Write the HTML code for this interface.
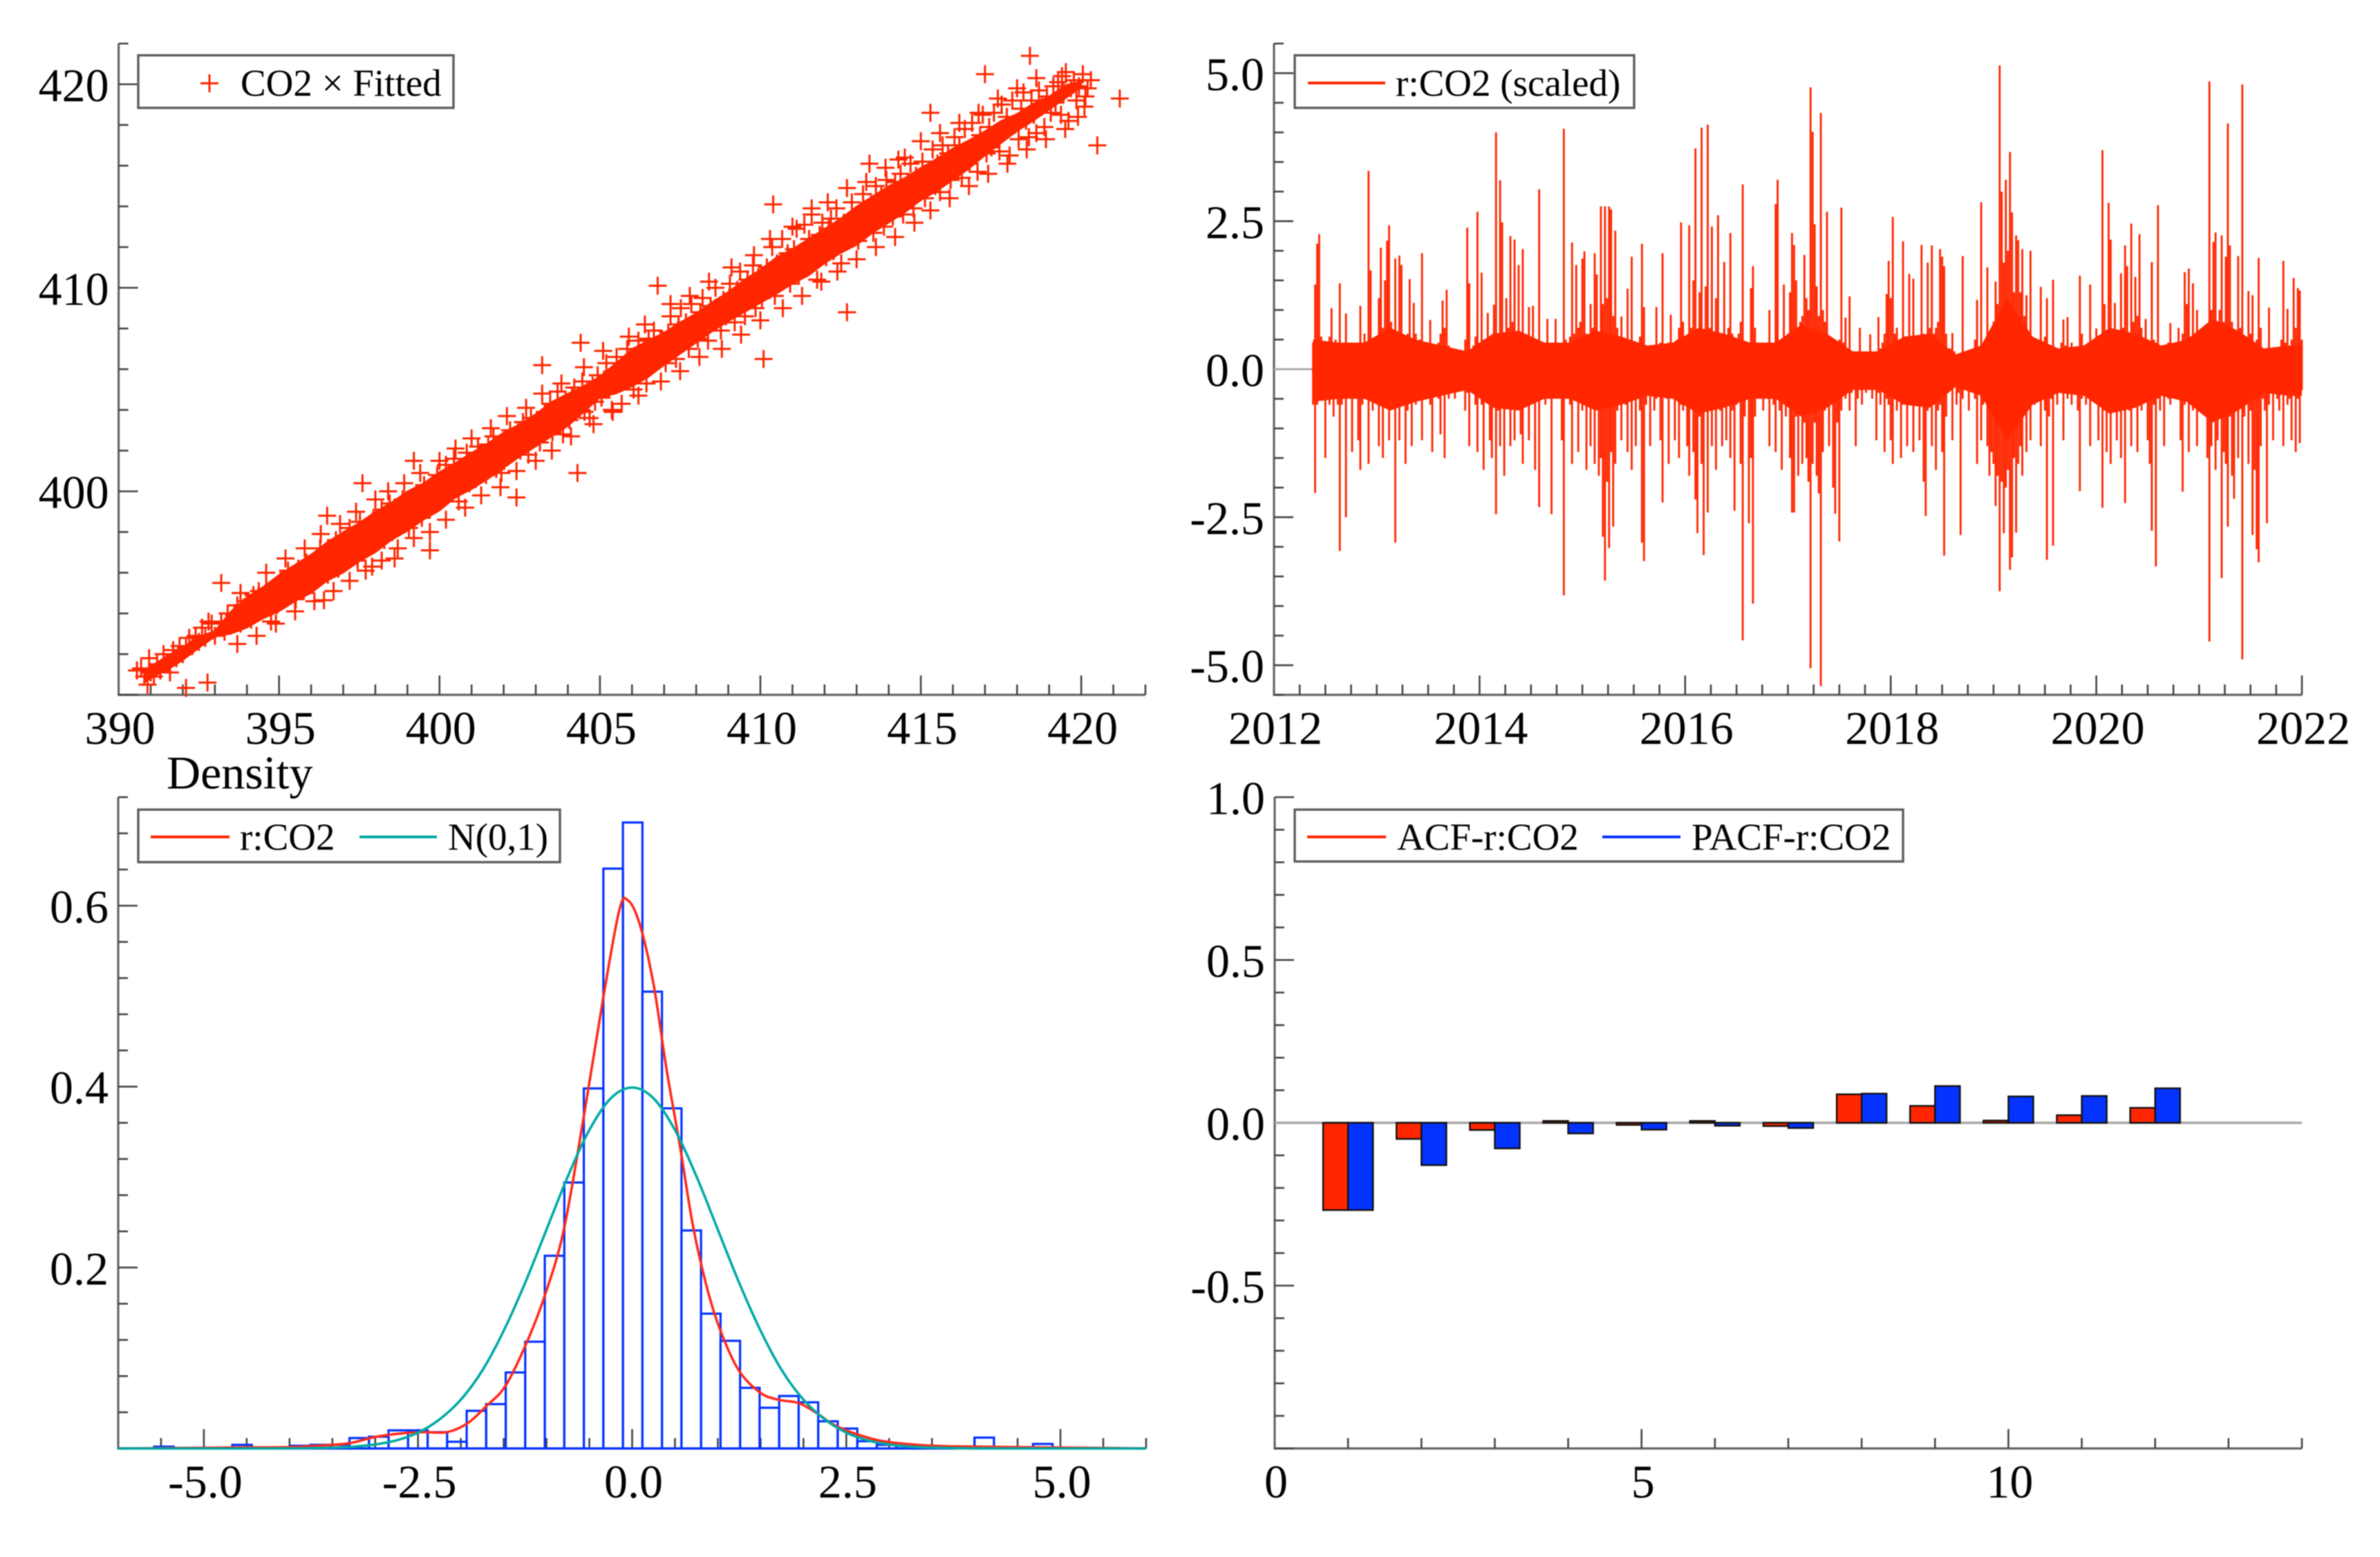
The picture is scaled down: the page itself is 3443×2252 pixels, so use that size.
<!DOCTYPE html>
<html lang="en">
<head>
<meta charset="utf-8">
<title>CO2 model diagnostics</title>
<style>
html,body{margin:0;padding:0;background:#fff;width:3443px;height:2252px;overflow:hidden}
svg{display:block;filter:blur(0.9px)}
text{font-family:"Liberation Serif",serif;fill:#000}
</style>
</head>
<body>
<svg id="chart" xmlns="http://www.w3.org/2000/svg" width="3443" height="2252" viewBox="0 0 3443 2252"></svg>
<script>
/* ---------- Panel 1: CO2 x Fitted ---------- */
const co2FittedPoints = [
[390.57,391.2],[390.7,391.3],[390.8,390.9],[390.95,391.8],[390.9,390.5],[391.0,391.1],[391.1,390.9],[391.2,391.5],[391.3,391.2],[391.4,392.0],[391.5,391.6],[391.6,391.1],[391.7,392.2],[391.8,391.8],[391.9,392.4],[392.0,392.0],[392.1,392.3],[392.1,390.34],[392.2,392.8],[392.3,392.4],[392.4,392.9],[392.5,392.6],[392.6,393.3],[392.7,392.8],[392.77,390.6],[392.8,393.6],[392.9,393.5],[393.0,392.9],
[393.2,393.6],[393.2,395.5],[393.3,393.1],[393.4,394.0],[393.5,393.4],[393.6,393.9],[393.7,394.4],[393.7,392.5],[393.8,393.5],[393.9,394.3],[394.0,393.8],[394.0,394.6],
[394.05,394.4],[394.13,393.7],[394.2,394.9],[394.28,394.1],[394.37,395.1],[394.45,394.2],[394.52,394.3],[394.6,395.2],[394.68,394.5],[394.75,393.6],[394.85,395.0],[394.93,394.4],
[395.05,395.6],[395.13,394.8],[395.2,395.3],[395.28,396.1],[395.37,395.0],[395.45,395.7],[395.52,394.7],[395.6,396.2],[395.68,395.6],[395.77,395.1],[395.85,396.5],[395.93,395.7],
[396.05,395.4],[396.13,396.4],[396.2,396.0],[396.28,397.2],[396.37,396.3],[396.4,394.65],[396.45,396.9],[396.5,398.8],[396.52,395.9],[396.6,397.1],[396.68,396.4],[396.77,397.6],[396.85,396.2],[396.93,397.0],
[397.05,396.5],[397.13,397.4],[397.2,398.2],[397.28,397.0],[397.37,397.9],[397.45,396.6],[397.52,398.5],[397.6,400.4],[397.68,397.5],[397.77,398.0],[397.85,397.3],[397.9,396.3],[397.93,398.6],
[398.05,397.7],[398.13,398.3],[398.2,399.1],[398.28,397.6],[398.37,398.6],[398.45,399.4],[398.52,398.1],[398.6,396.7],[398.65,399.0],[398.77,398.4],[398.85,399.6],[398.93,398.8],
[399.05,398.2],[399.13,399.5],[399.2,401.5],[399.28,399.0],[399.37,399.8],[399.45,398.7],[399.52,400.3],[399.6,399.3],[399.7,397.1],[399.75,400.0],[399.85,399.4],[399.93,400.8],
[400.05,399.6],[400.13,400.6],[400.2,401.3],[400.28,399.9],[400.37,400.4],[400.45,401.6],[400.52,400.1],[400.6,399.5],[400.68,401.1],[400.77,400.5],[400.85,401.9],[400.93,400.4],
[401.05,401.4],[401.13,400.6],[401.2,402.2],[401.28,401.0],[401.37,401.8],[401.45,400.8],[401.52,402.3],[401.6,401.3],[401.68,402.7],[401.77,401.1],[401.85,401.9],[401.93,400.9],
[402.05,402.5],[402.13,401.7],[402.2,403.0],[402.28,402.1],[402.4,399.7],[402.45,402.9],[402.52,402.0],[402.6,403.4],[402.68,402.5],[402.77,401.8],[402.85,403.6],[402.93,402.8],
[403.05,403.3],[403.13,402.4],[403.2,406.2],[403.28,403.9],[403.37,403.0],[403.45,404.3],[403.52,402.9],[403.6,403.8],[403.68,404.9],[403.77,403.4],[403.85,402.8],[403.93,404.5],
[404.05,403.5],[404.13,404.6],[404.2,405.1],[404.3,400.9],[404.37,404.0],[404.4,407.3],[404.45,405.4],[404.52,403.9],[404.6,404.9],[404.68,403.6],[404.77,405.2],[404.85,404.4],[404.93,405.7],
[405.05,404.6],[405.13,405.5],[405.2,406.3],[405.28,405.0],[405.37,404.0],[405.45,405.9],[405.52,406.6],[405.6,405.3],[405.68,404.3],[405.77,406.2],[405.85,407.0],[405.93,405.7],
[406.05,405.0],[406.13,406.6],[406.2,407.4],[406.28,405.9],[406.37,406.9],[406.45,405.3],[406.52,407.5],[406.6,406.4],[406.68,407.9],[406.8,410.1],[406.85,406.8],[406.93,407.3],
[407.05,406.3],[407.13,407.8],[407.2,408.6],[407.28,407.1],[407.37,406.5],[407.45,408.2],[407.52,409.0],[407.6,407.4],[407.68,408.3],[407.77,407.0],[407.85,409.2],[407.93,408.1],
[408.05,407.5],[408.13,408.8],[408.2,409.5],[408.28,408.1],[408.37,407.4],[408.45,409.1],[408.52,408.3],[408.6,410.0],[408.68,408.7],[408.77,407.9],[408.85,409.4],[408.93,408.6],
[409.05,410.2],[409.13,409.0],[409.2,408.3],[409.28,409.9],[409.37,410.8],[409.45,409.2],[409.52,408.6],[409.6,410.4],[409.68,409.6],[409.77,411.1],[409.85,409.0],[409.93,410.5],
[410.05,409.5],[410.1,406.5],[410.2,411.0],[410.28,410.2],[410.37,412.0],[410.4,414.1],[410.45,409.6],[410.52,411.2],[410.6,410.3],[410.68,412.4],[410.77,410.8],[410.85,411.7],[410.93,410.2],
[411.05,411.9],[411.13,412.9],[411.2,410.6],[411.28,411.6],[411.37,413.1],[411.45,411.0],[411.52,412.4],[411.6,413.6],[411.68,411.3],[411.77,410.4],[411.85,412.6],[411.93,413.2],
[412.05,411.5],[412.13,412.9],[412.2,413.4],[412.28,411.8],[412.37,413.9],[412.45,412.5],[412.52,411.2],[412.6,413.2],[412.7,408.8],[412.77,412.4],[412.85,414.2],[412.93,413.0],
[413.05,412.3],[413.13,413.7],[413.2,414.6],[413.28,413.1],[413.4,416.1],[413.45,414.1],[413.52,412.7],[413.6,415.0],[413.68,413.8],[413.77,414.5],[413.85,413.0],[413.93,415.3],
[414.05,414.6],[414.13,413.5],[414.2,415.2],[414.28,414.3],[414.3,416.3],[414.37,415.6],[414.45,413.6],[414.52,415.0],[414.6,414.4],[414.68,416.1],[414.77,413.9],[414.85,415.5],[414.93,414.7],
[415.05,416.2],[415.13,414.4],[415.2,415.6],[415.3,418.6],[415.37,416.8],[415.45,415.0],[415.52,416.1],[415.6,414.7],[415.68,417.0],[415.77,415.9],[415.85,416.6],[415.93,415.3],
[416.05,417.4],[416.13,416.0],[416.2,417.0],[416.28,415.4],[416.37,417.8],[416.45,416.5],[416.52,416.1],[416.6,418.1],[416.68,416.9],[416.77,415.7],[416.85,417.5],[416.93,418.5],
[417.0,420.5],[417.05,416.6],[417.13,417.9],[417.2,416.9],[417.28,418.6],[417.37,417.4],[417.45,416.7],[417.52,419.0],[417.6,417.7],[417.68,418.4],[417.77,416.5],[417.85,419.2],[417.93,418.0],
[418.05,417.3],[418.13,418.8],[418.2,419.6],[418.28,418.2],[418.37,417.4],[418.4,421.4],[418.45,419.2],[418.52,418.5],[418.6,417.6],[418.68,419.7],[418.77,418.9],[418.85,417.9],[418.93,419.4],
[419.05,418.6],[419.13,419.9],[419.2,419.1],[419.28,420.1],[419.37,418.5],[419.4,420.4],[419.45,419.6],[419.52,420.6],[419.6,418.2],[419.68,419.8],[419.77,420.2],[419.85,419.2],[419.93,419.9],
[420.05,420.5],[420.13,419.4],[420.2,419.8],[420.3,420.2],[420.5,417.0],[421.2,419.3],
[393.8,395.0],[394.3,392.9],[394.6,396.0],[394.9,393.5],[395.2,396.7],[395.5,394.1],[395.8,397.2],[396.1,394.6],[396.3,397.9],[396.7,395.1],[396.9,398.4],[397.2,395.6],[397.4,399.0],[397.7,396.1],[398.0,399.6],[398.2,396.6],[398.4,400.0],[398.7,397.2],[398.9,400.4],[399.2,397.7],[399.4,400.9],[399.7,398.0],[400.0,401.5],[400.2,398.6],[400.5,402.1],[400.8,399.2],[401.0,402.6],[401.3,399.8],[401.6,403.1],[401.9,400.2],[402.1,403.7],[402.4,401.0],[402.7,404.1],[403.0,401.5],[403.2,404.8],[403.5,402.0],[403.8,405.3],[404.1,402.7],[404.5,406.1],[404.8,403.3],[405.1,406.9],[405.4,403.9],[405.9,407.6],[406.2,404.7],[406.4,408.2],[406.9,405.4],[407.2,409.2],[407.5,405.9],[407.8,409.6],[408.1,406.6],[408.4,410.3],[408.8,407.0],[409.1,411.0],[409.4,407.7],[409.8,411.6],[410.0,408.4],[410.3,412.4],[410.7,409.0],[411.0,413.0],[411.3,409.6],[411.6,413.9],[411.9,410.3],[412.1,414.2],[412.4,410.8],[412.7,414.9],[413.0,411.4],[413.3,415.2],[413.6,412.0],[413.9,415.9],[414.2,412.5],[414.5,416.4],[414.8,413.2],[415.0,417.2],[415.3,413.8],[415.6,417.6],[415.9,414.4],[416.2,418.1],[416.5,415.0],[416.8,418.6],[417.1,415.6],[417.4,419.3],[417.7,416.1],[418.0,419.8],[418.3,416.8],[418.6,420.3],[418.9,417.3],[419.5,417.8],[419.9,418.4],[420.1,418.9]
];
/* saturated (fully overplotted) core of the point cloud, read as an envelope */
const denseBandX = [390.8,391.2,391.6,392,392.5,393,393.5,394,394.5,395,395.5,396,396.5,397,397.5,398,398.5,399,399.5,400,400.5,401,401.5,402,402.5,403,403.5,404,404.5,405,405.5,406,406.5,407,407.5,408,408.5,409,409.5,410,410.5,411,411.5,412,412.5,413,413.5,414,414.5,415,415.5,416,416.5,417,417.5,418,418.5,419,419.5,420];
const denseBandLow = [390.6,391.0,391.3,391.7,392.3,392.85,393.0,393.3,393.75,394.1,394.6,395.0,395.6,396.0,396.55,397.0,397.6,398.05,398.6,399.05,399.7,400.1,400.6,401.15,401.7,402.2,402.7,403.2,403.9,404.6,404.8,405.15,405.6,406.2,406.75,407.3,407.85,408.35,408.8,409.25,409.7,410.2,410.6,411.2,411.7,412.1,412.7,413.2,413.7,414.3,414.75,415.3,415.85,416.5,417.1,417.7,418.2,418.75,419.3,419.85];
const denseBandHigh = [391.2,391.6,392.0,392.35,392.85,393.15,394.1,394.8,395.3,395.9,396.4,396.9,397.5,398.0,398.45,399.0,399.45,400.0,400.4,400.95,401.4,401.9,402.35,402.9,403.3,403.8,404.4,404.8,405.15,405.65,406.3,407.0,407.4,407.8,408.3,408.75,409.3,409.8,410.4,410.9,411.5,411.9,412.4,412.9,413.4,414.0,414.5,415.0,415.4,415.9,416.35,416.85,417.25,417.7,418.2,418.55,419.05,419.4,419.95,420.15];
const scatterXTickLabels = ['390','395','400','405','410','415','420'];
const scatterYTickLabels = ['400','410','420'];

/* ---------- Panel 2: scaled residuals (high / low per 0.02-year sample) ---------- */
const residualStartYear = 2012.38;
const residualStepYears = 0.02;
const residualHigh = [
.45,1.43,2.12,2.28,.55,.3,.4,.35,.55,1.03,
.4,.5,.3,1.45,.35,.25,.94,.3,.4,.2,
.45,.2,.4,1.07,.35,.6,.3,3.35,1.67,.5,
.35,.55,1.2,2.05,.7,1.5,2.17,2.43,.8,.5,
1.87,.6,1.92,1.76,.45,.3,.6,1.52,.4,1.12,
.6,.35,.5,1.96,.4,.3,.45,.83,.35,.3,
.35,.45,.6,1.16,.7,1.34,.4,.3,.25,.2,
.3,.2,.25,.2,.5,2.39,1.45,.3,.4,.55,
2.66,.45,1.63,.5,.35,.95,.4,.55,1.09,4.0,
.6,3.19,2.48,.5,1.2,.7,2.25,.8,2.19,.6,
1.76,.5,2.03,.35,.45,1.05,.3,1.07,.25,.35,
3.04,.3,.25,.4,.85,.3,.35,.45,.85,.25,
.35,.4,4.06,.5,.35,.55,2.14,.6,1.76,.7,
.8,1.87,1.99,.6,.5,1.1,.7,1.96,1.6,.6,
2.75,1.1,2.75,1.2,2.75,2.7,.9,2.34,.7,.45,
.89,.35,.5,1.36,.45,1.9,.4,.3,.3,.55,
2.12,1.05,.4,.3,.35,.25,.4,1.05,.3,.45,
1.96,.3,.35,.45,.92,.4,.35,.5,.7,2.48,
.8,.55,.5,2.43,.7,1.5,3.73,.6,1.3,4.08,
.6,1.4,4.13,.7,2.41,.5,1.2,2.6,.6,.5,
1.81,.5,.7,2.3,.6,.35,.4,.6,.8,3.12,
.45,.25,.35,1.37,1.74,.7,.45,.3,.2,.3,
.4,.45,1.0,.4,.35,2.79,3.2,.35,.5,1.43,
.5,.6,1.3,2.3,2.1,1.5,.7,.8,.9,1.93,
1.2,1.0,4.76,4.01,2.45,1.4,.9,4.33,1.0,.8,
2.66,.4,.35,.25,.2,.4,.5,2.73,.45,.87,
.3,1.23,.2,.3,.2,.3,.7,.3,.2,.25,
.2,.59,.15,.12,.3,.88,.35,.45,.6,1.27,
1.83,1.2,2.57,.6,.7,.5,.4,2.16,.4,.5,
1.61,.5,1.53,.4,.3,.25,2.1,.6,.3,1.8,
.7,2.09,.6,.7,.8,2.03,1.9,1.74,.6,.35,
.35,.61,.3,.18,.15,.25,1.91,.3,.2,.18,
.2,.15,.5,1.17,.35,2.82,.3,.5,1.72,.6,
.6,.8,1.48,1.1,5.13,3.0,1.8,3.2,2.0,3.67,
2.65,1.3,2.26,2.18,1.3,2.03,.9,1.25,.6,2.0,
.5,.45,.3,.35,1.39,.45,.55,1.2,.25,.3,
1.51,.25,.3,.35,.45,.84,.4,.88,.35,.45,
.35,.3,.3,1.58,.6,.35,.3,.45,1.43,.3,
.35,.69,.35,.55,3.7,1.1,.6,2.81,2.19,.5,
1.12,.55,.45,1.62,.7,2.09,1.74,.6,2.46,.8,
1.56,.9,2.28,.7,.5,.85,.3,.45,1.81,.5,
.45,2.77,.3,.35,.4,.4,.45,.78,.35,.2,
.2,.7,.4,.6,1.64,1.1,1.7,.55,1.45,.4,
1.0,.5,.25,.2,.3,.45,4.86,1.0,2.15,2.31,
.8,1.0,2.26,.8,1.9,4.15,2.09,.8,.55,.6,
1.91,.7,4.81,.5,.45,1.32,.6,1.25,.4,.5,
1.88,.7,.35,.3,.3,1.04,.2,.25,.2,.25,
.35,.5,1.83,.45,1.02,.3,.5,1.54,.7,1.37,
1.33,.5
];
const residualLow = [
-.6,-2.09,-.6,-.4,-.5,-.35,-1.5,-.4,-.6,-.35,
-.8,-.4,-.6,-3.07,-.6,-.5,-2.5,-.4,-.35,-1.4,
-.5,-.3,-1.2,-1.7,-.6,-.5,-.4,-1.6,-.35,-.7,
-.4,-.35,-1.3,-.5,-1.5,-.4,-.35,-1.2,-.6,-.5,
-2.93,-.5,-1.2,-.4,-.35,-1.6,-.7,-.5,-1.3,-.35,
-.6,-.3,-.4,-1.2,-.35,-.25,-.5,-.6,-1.4,-.3,
-.35,-.5,-1.1,-.3,-1.5,-.4,-.5,-.35,-.25,-.5,
-.3,-.35,-.25,-.3,-.7,-.4,-1.3,-.3,-.35,-.6,
-1.4,-.4,-.6,-1.7,-.5,-.4,-1.2,-1.5,-.5,-2.45,
-.7,-1.3,-.5,-1.8,-.6,-.4,-1.3,-.35,-1.2,-.5,
-.4,-1.1,-1.6,-.35,-.5,-1.2,-.3,-.5,-1.7,-.35,
-2.33,-.4,-.35,-.6,-.3,-.5,-2.45,-.35,-.4,-.3,
-.35,-1.2,-3.82,-.5,-.35,-.6,-1.6,-.4,-.5,-1.4,
-.5,-.7,-.4,-1.7,-.6,-1.3,-.5,-1.6,-.6,-1.8,
-1.5,-2.83,-3.57,-1.9,-3.02,-1.4,-2.66,-1.6,-.7,-.5,
-1.2,-.4,-.6,-1.4,-.5,-1.7,-.4,-1.3,-.35,-.7,
-2.93,-3.24,-.6,-.4,-1.3,-.35,-.7,-.5,-.35,-1.2,
-2.25,-.4,-.5,-1.6,-.4,-.35,-1.2,-.5,-1.5,-.6,
-.7,-.5,-1.3,-1.8,-.6,-1.4,-2.2,-2.77,-.8,-1.6,
-3.14,-.7,-2.42,-.5,-1.3,-.6,-1.7,-.5,-.7,-1.3,
-.5,-1.2,-.6,-1.5,-.7,-2.39,-.6,-.4,-1.6,-4.58,
-.8,-.4,-2.6,-1.5,-3.96,-.8,-.4,-.5,-.3,-.7,
-.35,-.5,-1.3,-.4,-.6,-1.4,-.4,-.7,-1.7,-.5,
-.8,-.6,-1.5,-2.42,-2.42,-.8,-1.8,-.7,-1.6,-.9,
-1.5,-1.9,-5.05,-1.6,-.9,-1.8,-2.1,-5.35,-1.4,-.7,
-.6,-1.3,-.5,-2.0,-2.44,-.9,-2.91,-.7,-.4,-.5,
-.35,-.7,-.4,-.3,-1.3,-.5,-.35,-.6,-.3,-.4,
-.35,-.3,-.5,-.35,-1.2,-.4,-.6,-.35,-1.4,-.5,
-.6,-1.2,-1.6,-.5,-.7,-.4,-1.5,-.6,-.35,-1.3,
-.5,-.4,-1.4,-.6,-.35,-1.2,-.4,-1.9,-2.48,-.7,
-.5,-1.3,-.6,-1.7,-.7,-.6,-1.4,-3.15,-.8,-.4,
-.35,-1.2,-.3,-.6,-.4,-2.8,-.5,-.35,-.3,-.7,
-.35,-.25,-.5,-1.6,-.4,-1.2,-.6,-.4,-1.3,-1.8,
-1.4,-1.6,-2.31,-1.8,-3.75,-1.9,-2.77,-2.0,-1.7,-3.39,
-3.18,-1.5,-2.76,-1.6,-1.3,-1.8,-.7,-1.4,-.5,-1.2,
-.4,-.6,-.35,-.5,-1.3,-.4,-.7,-3.22,-.8,-.5,
-2.98,-.35,-.6,-.4,-.3,-1.2,-.4,-.5,-.35,-.6,
-.4,-.3,-.7,-2.06,-.5,-.35,-.6,-.4,-1.3,-.35,
-.5,-.4,-1.2,-.6,-2.34,-.7,-1.4,-.5,-1.6,-.6,
-.4,-1.2,-.5,-1.5,-.4,-2.26,-.6,-.7,-1.3,-.5,
-.6,-1.4,-.4,-.7,-.5,-.35,-1.2,-1.6,-2.73,-.6,
-3.33,-.5,-.7,-.35,-1.3,-.4,-.5,-.6,-.35,-.4,
-.5,-.3,-1.2,-2.07,-.6,-.4,-1.4,-.5,-.7,-.35,
-1.3,-.5,-.35,-.7,-.4,-1.5,-4.6,-1.3,-.6,-1.7,
-1.2,-.6,-3.53,-1.4,-1.6,-2.66,-.8,-1.8,-2.19,-.7,
-1.5,-.6,-4.9,-.8,-.5,-1.6,-.7,-2.8,-1.7,-3.04,
-3.26,-1.3,-.5,-.7,-2.6,-.6,-.4,-1.2,-.35,-.5,
-.7,-.4,-1.3,-.35,-.6,-.5,-1.2,-.4,-1.4,-.5,
-1.25,-.35
];
/* solid overplotted core of the residual trace, read as an envelope */
const residualCoreYears = [2012.38,2012.63,2012.88,2013.13,2013.38,2013.63,2013.88,2014.13,2014.38,2014.63,2014.88,2015.13,2015.38,2015.63,2015.88,2016.13,2016.38,2016.63,2016.88,2017.13,2017.38,2017.63,2017.88,2018.13,2018.38,2018.63,2018.88,2019.13,2019.38,2019.63,2019.88,2020.13,2020.38,2020.63,2020.88,2021.13,2021.38,2021.63,2021.88,2022.0];
const residualCoreUpper = [.5,.45,.45,.7,.5,.4,.3,.6,.65,.45,.45,.65,.55,.4,.45,.7,.6,.45,.45,.75,.6,.3,.3,.55,.6,.25,.4,1.2,.55,.35,.4,.7,.6,.4,.5,.85,.65,.35,.4,.4];
const residualCoreLower = [-.55,-.5,-.5,-.7,-.55,-.45,-.35,-.65,-.7,-.5,-.5,-.7,-.6,-.45,-.5,-.75,-.65,-.5,-.5,-.8,-.65,-.35,-.35,-.6,-.65,-.3,-.45,-1.2,-.6,-.4,-.45,-.75,-.65,-.45,-.55,-.9,-.7,-.4,-.45,-.45];
const residualXTickLabels = ['2012','2014','2016','2018','2020','2022'];
const residualYTickLabels = ['-5.0','-2.5','0.0','2.5','5.0'];

/* ---------- Panel 3: density ---------- */
const histFirstBinCenter = -5.466;
const histBinWidth = 0.228;
const histDensity = [.002,0,0,0,.004,0,0,.003,.004,.004,.0115,.013,.02,.02,.018,.0074,.0416,.049,.084,.118,.213,.294,.398,.641,.692,.505,.376,.241,.149,.119,.067,.045,.058,.051,.03,.022,.008,.004,.003,.003,.002,0,.012,0,0,.005];
const kernelX = [-6,-5,-4.5,-4,-3.5,-3.29,-3,-2.7,-2.43,-2.16,-1.92,-1.7,-1.48,-1.24,-1.02,-.8,-.57,-.34,-.15,-.05,.09,.25,.4,.56,.71,.87,1.02,1.24,1.49,1.7,1.95,2.17,2.32,2.5,2.75,3,3.5,4,5,6];
const kernelDensity = [0,.0007,.0012,.0015,.004,.006,.0127,.0166,.018,.018,.028,.047,.069,.115,.169,.241,.364,.497,.595,.606,.579,.513,.42,.333,.246,.179,.133,.087,.062,.054,.05,.038,.028,.02,.012,.007,.003,.002,.001,0];
const normalX = [-6,-5,-4.5,-4,-3.75,-3.5,-3.25,-3,-2.75,-2.5,-2.25,-2,-1.75,-1.5,-1.25,-1,-.75,-.5,-.25,0,.25,.5,.75,1,1.25,1.5,1.75,2,2.25,2.5,2.75,3,3.25,3.5,3.75,4,4.5,5,6];
const normalDensity = [0,0,0,.0001,.0004,.0009,.002,.0044,.009,.0175,.032,.054,.086,.13,.183,.242,.301,.352,.387,.399,.387,.352,.301,.242,.183,.13,.086,.054,.032,.0175,.009,.0044,.002,.0009,.0004,.0001,0,0,0];
const densityXTickLabels = ['-5.0','-2.5','0.0','2.5','5.0'];
const densityYTickLabels = ['0.2','0.4','0.6'];

/* ---------- Panel 4: ACF / PACF ---------- */
const lags = [1,2,3,4,5,6,7,8,9,10,11,12];
const acfValues = [-.268,-.0495,-.022,.0057,-.0064,.0057,-.01,.0876,.052,.007,.0234,.046];
const pacfValues = [-.268,-.13,-.0786,-.0326,-.021,-.009,-.016,.0896,.113,.081,.0825,.106];
const acfXTickLabels = ['0','5','10'];
const acfYTickLabels = ['-0.5','0.0','0.5','1.0'];

const RED = '#ff2600', BLUE = '#0433ff', TEAL = '#00a9a5', AXIS = '#666666', TICK = '#444444';
const svg = document.getElementById('chart');
const NS = 'http://www.w3.org/2000/svg';

function add(parent, tag, attrs, name) {
  const el = document.createElementNS(NS, tag);
  for (const k in attrs) el.setAttribute(k, attrs[k]);
  
  
  parent.appendChild(el);
  return el;
}
function label(parent, x, y, str, size, anchor, name) {
  const t = add(parent, 'text', {x: x, y: y, 'font-size': size, 'text-anchor': anchor}, name);
  t.textContent = str;
  return t;
}
function scale(d0, d1, r0, r1) { return v => r0 + (v - d0) * (r1 - r0) / (d1 - d0); }

function smoothPath(xs, ys, sx, sy) {
  const p = xs.map((x, i) => [sx(x), sy(ys[i])]);
  let d = 'M' + p[0][0].toFixed(1) + ',' + p[0][1].toFixed(1);
  for (let i = 0; i < p.length - 1; i++) {
    const a = p[Math.max(i - 1, 0)], b = p[i], c = p[i + 1], e = p[Math.min(i + 2, p.length - 1)];
    const c1x = b[0] + (c[0] - a[0]) / 6, c1y = b[1] + (c[1] - a[1]) / 6;
    const c2x = c[0] - (e[0] - b[0]) / 6, c2y = c[1] - (e[1] - b[1]) / 6;
    d += 'C' + c1x.toFixed(1) + ',' + c1y.toFixed(1) + ' ' + c2x.toFixed(1) + ',' + c2y.toFixed(1) + ' ' + c[0].toFixed(1) + ',' + c[1].toFixed(1);
  }
  return d;
}
function envelopePath(xs, highs, lows, sx, sy) {
  let d = '';
  xs.forEach((x, i) => {
    d += (i ? 'L' : 'M') + sx(x).toFixed(1) + ',' + sy(highs[i]).toFixed(1);
  });
  for (let i = xs.length - 1; i >= 0; i--) {
    d += 'L' + sx(xs[i]).toFixed(1) + ',' + sy(lows[i]).toFixed(1);
  }
  return d + 'Z';
}

function makeAxes(panel, name, box, xDom, yDom, xMinor, xMajor, yMinor, yMajor, xLabels, yLabels) {
  const sx = scale(xDom[0], xDom[1], box.x0, box.x1);
  const sy = scale(yDom[0], yDom[1], box.y1, box.y0);
  const g = add(panel, 'g', {}, name + '-axes');
  add(g, 'line', {x1: box.x0, y1: box.y0, x2: box.x0, y2: box.y1 + 1.5, stroke: AXIS, 'stroke-width': 3.2}, name + '-y-axis');
  add(g, 'line', {x1: box.x0 - 1.5, y1: box.y1, x2: box.x1, y2: box.y1, stroke: AXIS, 'stroke-width': 3.2}, name + '-x-axis');
  const nx = Math.round((xDom[1] - xDom[0]) / xMinor);
  for (let i = 0; i <= nx; i++) {
    const v = xDom[0] + i * xMinor;
    const major = Math.abs(v / xMajor - Math.round(v / xMajor)) < 1e-6;
    if (i === 0) continue;
    add(g, 'line', {x1: sx(v), y1: box.y1, x2: sx(v), y2: box.y1 - (major ? 28 : 15), stroke: TICK, 'stroke-width': 2.6}, name + '-x-tick');
  }
  const ny = Math.round((yDom[1] - yDom[0]) / yMinor);
  for (let i = 0; i <= ny; i++) {
    const v = yDom[0] + i * yMinor;
    const major = Math.abs(v / yMajor - Math.round(v / yMajor)) < 1e-6;
    if (i === 0 && yDom[0] === 0) continue;
    add(g, 'line', {x1: box.x0, y1: sy(v), x2: box.x0 + (major ? 28 : 14), y2: sy(v), stroke: TICK, 'stroke-width': 2.6}, name + '-y-tick');
  }
  xLabels.forEach(s => { label(g, sx(Number(s)) + 2, box.y1 + 71, s, 68, 'middle', name + '-x-tick-label'); });
  yLabels.forEach(s => { label(g, box.x0 - 14, sy(Number(s)) + 24.5, s, 68, 'end', name + '-y-tick-label'); });
  return {sx: sx, sy: sy};
}

function legendFrame(panel, name, x0, y0, x1, y1) {
  const g = add(panel, 'g', {}, name);
  add(g, 'rect', {x: x0, y: y0, width: x1 - x0, height: y1 - y0, fill: '#fff', stroke: '#5e5e5e', 'stroke-width': 3.4}, name + '-frame');
  return g;
}
function legendLine(g, x0, x1, y, color, name) {
  add(g, 'line', {x1: x0, y1: y, x2: x1, y2: y, stroke: color, 'stroke-width': 4}, name);
}

/* Panel 1 */
(function () {
  const panel = add(svg, 'g', {}, 'scatter-panel');
  const a = makeAxes(panel, 'scatter', {x0: 171.6, x1: 1657, y0: 63, y1: 1005}, [390, 422], [390, 422], 1, 5, 2, 10, scatterXTickLabels, scatterYTickLabels);
  add(panel, 'path', {d: envelopePath(denseBandX, denseBandHigh, denseBandLow, a.sx, a.sy), fill: RED, stroke: RED, 'stroke-width': 2, 'stroke-linejoin': 'round'}, 'co2-fitted-dense-core');
  let d = '';
  co2FittedPoints.forEach(p => {
    const x = a.sx(p[0]), y = a.sy(p[1]);
    d += 'M' + (x - 13).toFixed(1) + ',' + y.toFixed(1) + 'h26M' + x.toFixed(1) + ',' + (y - 13).toFixed(1) + 'v26';
  });
  add(panel, 'path', {d: d, fill: 'none', stroke: RED, 'stroke-width': 3}, 'co2-fitted-points');
  const lg = legendFrame(panel, 'scatter-legend', 200, 80, 656, 156);
  add(lg, 'path', {d: 'M290,120.5h26M303,107.5v26', fill: 'none', stroke: RED, 'stroke-width': 3}, 'scatter-legend-marker');
  label(lg, 348, 138.5, 'CO2 × Fitted', 55, 'start', 'scatter-legend-label');
})();

/* Panel 2 */
(function () {
  const panel = add(svg, 'g', {}, 'residual-panel');
  const a = makeAxes(panel, 'residual', {x0: 1843, x1: 3330, y0: 63, y1: 1005}, [2012, 2022], [-5.5, 5.5], 0.25, 2, 0.5, 2.5, residualXTickLabels, residualYTickLabels);
  add(panel, 'line', {x1: 1843, y1: a.sy(0), x2: 3330, y2: a.sy(0), stroke: '#aaaaaa', 'stroke-width': 3}, 'residual-zero-line');
  add(panel, 'path', {d: envelopePath(residualCoreYears, residualCoreUpper, residualCoreLower, a.sx, a.sy), fill: RED, stroke: 'none'}, 'residual-dense-core');
  let d = '';
  residualHigh.forEach((hi, i) => {
    const x = a.sx(residualStartYear + i * residualStepYears).toFixed(1);
    d += 'M' + x + ',' + a.sy(hi).toFixed(1) + 'V' + a.sy(residualLow[i]).toFixed(1);
  });
  add(panel, 'path', {d: d, fill: 'none', stroke: RED, 'stroke-width': 2.8}, 'residual-series');
  const lg = legendFrame(panel, 'residual-legend', 1873, 80, 2364, 156);
  legendLine(lg, 1892, 2004, 120, RED, 'residual-legend-swatch');
  label(lg, 2019, 138.5, 'r:CO2 (scaled)', 55, 'start', 'residual-legend-label');
})();

/* Panel 3 */
(function () {
  const panel = add(svg, 'g', {}, 'density-panel');
  label(panel, 241, 1140.7, 'Density', 68, 'start', 'density-title');
  const a = makeAxes(panel, 'density', {x0: 171, x1: 1658, y0: 1153, y1: 2095}, [-6, 6], [0, 0.72], 0.5, 2.5, 0.04, 0.2, densityXTickLabels, densityYTickLabels);
  histDensity.forEach((v, i) => {
    if (v <= 0) return;
    const c = histFirstBinCenter + i * histBinWidth;
    const x0 = a.sx(c - histBinWidth / 2), x1 = a.sx(c + histBinWidth / 2);
    add(panel, 'rect', {x: x0, y: a.sy(v), width: x1 - x0, height: a.sy(0) - a.sy(v), fill: 'none', stroke: BLUE, 'stroke-width': 3.2}, 'histogram-bin');
  });
  add(panel, 'path', {d: smoothPath(kernelX, kernelDensity, a.sx, a.sy), fill: 'none', stroke: '#ff2a1a', 'stroke-width': 3.6}, 'kernel-density-curve');
  add(panel, 'path', {d: smoothPath(normalX, normalDensity, a.sx, a.sy), fill: 'none', stroke: TEAL, 'stroke-width': 3.6}, 'normal-density-curve');
  const lg = legendFrame(panel, 'density-legend', 200, 1171, 810, 1247);
  legendLine(lg, 218, 332, 1210.5, RED, 'density-legend-swatch-kernel');
  label(lg, 347, 1229, 'r:CO2', 55, 'start', 'density-legend-label-kernel');
  legendLine(lg, 520, 632, 1210.5, TEAL, 'density-legend-swatch-normal');
  label(lg, 648, 1229, 'N(0,1)', 55, 'start', 'density-legend-label-normal');
})();

/* Panel 4 */
(function () {
  const panel = add(svg, 'g', {}, 'acf-panel');
  const a = makeAxes(panel, 'acf', {x0: 1844, x1: 3330, y0: 1153, y1: 2095}, [0, 14], [-1, 1], 1, 5, 0.1, 0.5, acfXTickLabels, acfYTickLabels);
  add(panel, 'line', {x1: 1844, y1: a.sy(0), x2: 3330, y2: a.sy(0), stroke: '#a8a8a8', 'stroke-width': 3.6}, 'acf-zero-line');
  const w = 0.34;
  lags.forEach((lag, i) => {
    const y0 = a.sy(0);
    const ya = a.sy(acfValues[i]), yp = a.sy(pacfValues[i]);
    add(panel, 'rect', {x: a.sx(lag - w), y: Math.min(ya, y0), width: a.sx(lag) - a.sx(lag - w), height: Math.abs(ya - y0), fill: RED, stroke: '#111', 'stroke-width': 2.4}, 'acf-bar-lag');
    add(panel, 'rect', {x: a.sx(lag), y: Math.min(yp, y0), width: a.sx(lag + w) - a.sx(lag), height: Math.abs(yp - y0), fill: BLUE, stroke: '#111', 'stroke-width': 2.4}, 'pacf-bar-lag');
  });
  const lg = legendFrame(panel, 'acf-legend', 1873, 1171, 2753, 1246);
  legendLine(lg, 1891, 2005, 1210.5, RED, 'acf-legend-swatch');
  label(lg, 2021, 1229, 'ACF-r:CO2', 55, 'start', 'acf-legend-label');
  legendLine(lg, 2318, 2431, 1210.5, BLUE, 'pacf-legend-swatch');
  label(lg, 2447, 1229, 'PACF-r:CO2', 55, 'start', 'pacf-legend-label');
})();
</script>
</body>
</html>
